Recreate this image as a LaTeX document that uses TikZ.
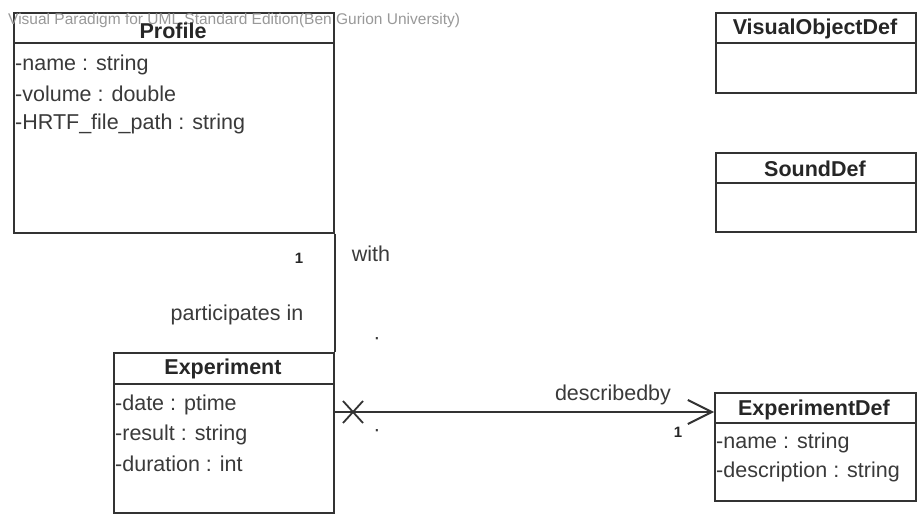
\documentclass[tikz,border=0pt]{standalone}
\usepackage{fontspec}
\setmainfont{Liberation Sans}
\usetikzlibrary{arrows.meta}
\definecolor{ln}{HTML}{333333}
\definecolor{tx}{HTML}{3A3A3A}
\begin{document}
\begin{tikzpicture}[x=1pt,y=-1pt,
  box/.style={draw=ln, line width=2pt, fill=white, rectangle, anchor=north west, inner sep=0pt},
  ttl/.style={font=\fontsize{21.5}{24}\selectfont\bfseries, text=black!85, inner sep=0pt},
  attr/.style={font=\fontsize{21.5}{24}\selectfont, text=tx, anchor=west, inner sep=0pt},
  lbl/.style={font=\fontsize{21.5}{24}\selectfont, text=tx, inner sep=0pt},
  mult/.style={font=\fontsize{15}{17}\selectfont\bfseries, text=black!85, inner sep=0pt},
  conn/.style={draw=ln, line width=2pt},
  wm/.style={font=\fontsize{15.5}{18}\selectfont, text=black!40, anchor=west, inner sep=0pt}]
\useasboundingbox (0,0) rectangle (919,518);
\fill[white] (0,0) rectangle (919,518);
% boxes
\node[box, minimum width=320pt, minimum height=220pt] (profile) at (13,12) {};
\draw[conn] ([yshift=-31pt]profile.north west) -- ([yshift=-31pt]profile.north east);
\node[box, minimum width=220pt, minimum height=160pt] (exp) at (113,352) {};
\draw[conn] ([yshift=-32pt]exp.north west) -- ([yshift=-32pt]exp.north east);
\node[box, minimum width=201pt, minimum height=108pt] (expdef) at (714,392) {};
\draw[conn] ([yshift=-31pt]expdef.north west) -- ([yshift=-31pt]expdef.north east);
\node[box, minimum width=200pt, minimum height=80pt] (vis) at (715,12) {};
\draw[conn] ([yshift=-31pt]vis.north west) -- ([yshift=-31pt]vis.north east);
\node[box, minimum width=200pt, minimum height=79pt] (sound) at (715,152) {};
\draw[conn] ([yshift=-31pt]sound.north west) -- ([yshift=-31pt]sound.north east);
% watermark
\node[wm] (wmk) at (8,20) {Visual Paradigm for UML Standard Edition(Ben Gurion University)};
% titles
\node[ttl] (tprofile) at (173,31) {Profile};
\node[ttl] (texp) at (223,369) {Experiment};
\node[ttl] (texpdef) at (814,410) {ExperimentDef};
\node[ttl] (tvis) at (815,29) {VisualObjectDef};
\node[ttl] (tsound) at (815,169) {SoundDef};
% attributes
\node[attr] (a1) at (15,65) {-name : string};
\node[attr] (a2) at (15,94) {-volume : double};
\node[attr] (a3) at (15,124) {-HRTF\_file\_path : string};
\node[attr] (b1) at (115,405) {-date : ptime};
\node[attr] (b2) at (115,435) {-result : string};
\node[attr] (b3) at (115,464) {-duration : int};
\node[attr] (c1) at (716,443) {-name : string};
\node[attr] (c2) at (716,472) {-description : string};
% connectors
\draw[conn] (profile.south east) -- (exp.north east);
\coordinate (ein) at ([yshift=-20pt]expdef.north west);
\draw[conn, -{Straight Barb[length=24pt,width=24pt,line width=2pt]}] (exp.east |- ein) -- (ein);
\coordinate (xm) at (353,412);
\draw[draw=ln, line width=1.8pt] ([shift={(-10,-11)}]xm) -- ([shift={(10,11)}]xm)
  ([shift={(-10,11)}]xm) -- ([shift={(10,-11)}]xm);
% labels
\node[mult] (m1) at (299,258) {1};
\node[lbl] (lwith) at (371,254) {with};
\node[lbl] (lpart) at (237,315) {participates in};
\node[lbl] (s1) at (377,341) {·};
\node[lbl] (s2) at (377,433) {·};
\node[lbl] (ldesc) at (613,395) {describedby};
\node[mult] (m2) at (678,432) {1};
\end{tikzpicture}
\end{document}
